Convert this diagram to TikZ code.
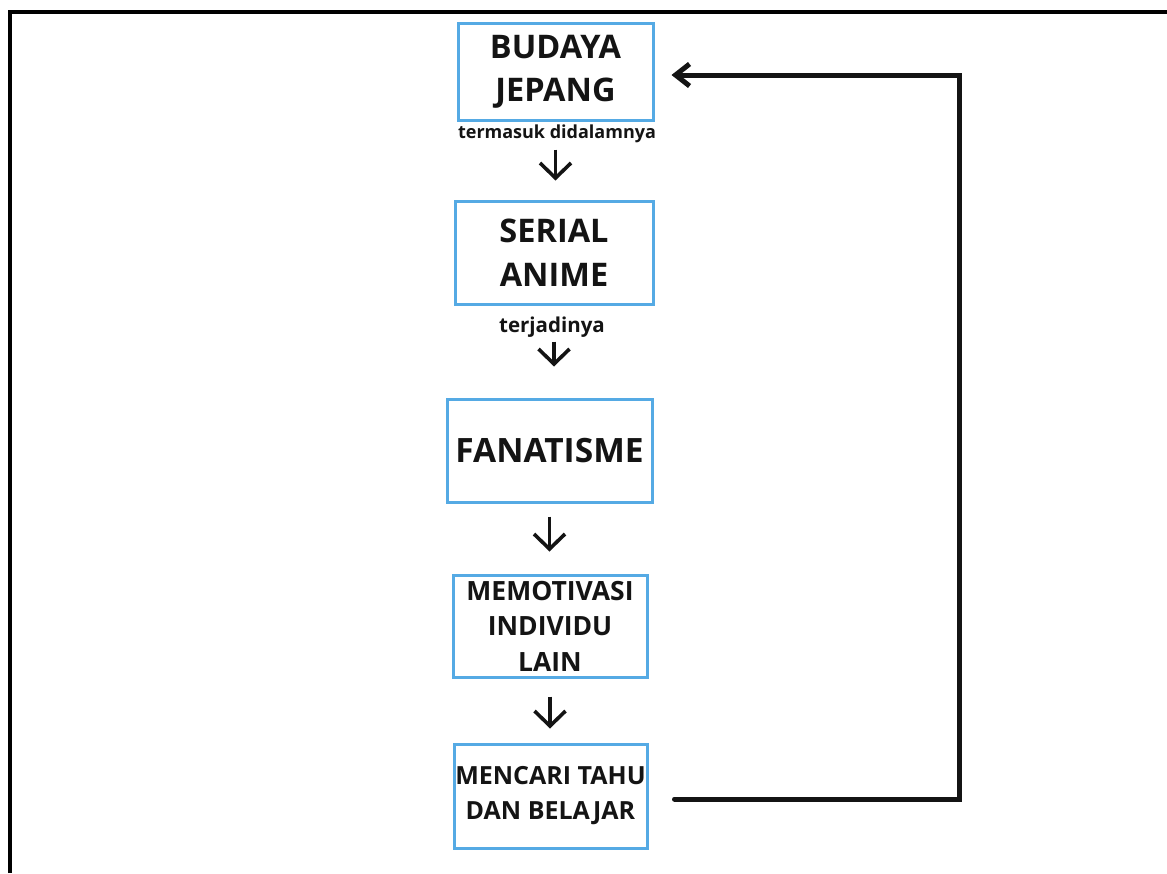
\documentclass[tikz,border=0pt]{standalone}
\usepackage{fontspec}
\setmainfont{Open Sans}
\usetikzlibrary{arrows.meta}
\definecolor{boxblue}{RGB}{85,170,228}
\definecolor{ink}{RGB}{20,20,20}
\tikzset{
  x=1pt, y=-1pt,
  flowbox/.style={draw=boxblue, line width=3pt, inner sep=0pt, align=center, text=ink},
  downarr/.style={draw=ink, line width=3.6pt, -{Straight Barb[length=15pt,width=31pt,line width=3.6pt]}},
  backarr/.style={draw=ink, line width=5pt, line cap=round, line join=miter, -{Straight Barb[length=14pt,width=22pt,line width=5pt]}},
  lbl/.style={text=ink, inner sep=0pt}
}
\begin{document}
\begin{tikzpicture}
\useasboundingbox (0,0) rectangle (1167,873);
\fill[white] (0,0) rectangle (1167,873);
% frame
\draw[line width=4pt] (10,873) -- (10,12) -- (1167,12);

\node[flowbox, minimum width=195pt, minimum height=97pt,
  font=\bfseries\fontsize{32.5}{43}\selectfont] (b1) at (555.5,71.5) {BUDAYA\\JEPANG};
\node[flowbox, minimum width=198pt, minimum height=103pt,
  font=\bfseries\fontsize{32.5}{44}\selectfont] (b2) at (554,252.5) {SERIAL\\ANIME};
\node[flowbox, minimum width=205pt, minimum height=103pt,
  font=\bfseries\fontsize{33.5}{40}\selectfont] (b3) at (549.5,450.5) {FANATISME};
\node[flowbox, minimum width=194pt, minimum height=102pt,
  font=\bfseries\fontsize{26.5}{35.5}\selectfont] (b4) at (550,626) {MEMOTIVASI\\INDIVIDU\\LAIN};
\node[flowbox, minimum width=193pt, minimum height=104pt,
  font=\bfseries\fontsize{25}{35}\selectfont] (b5) at (550.5,796) {MENCARI TAHU\\DAN BELAJAR};

\node[lbl, anchor=base, font=\bfseries\fontsize{18}{20}\selectfont] (l1) at (557,138) {termasuk didalamnya};
\node[lbl, anchor=base, font=\bfseries\fontsize{20.5}{22}\selectfont] (l2) at (552,332) {terjadinya};

\draw[downarr, shorten <=28pt, shorten >=19pt] (b1.south) -- (b1.south |- b2.north);
\draw[downarr, shorten <=36pt, shorten >=31pt] (b2.south) -- (b2.south |- b3.north);
\draw[downarr, shorten <=13pt, shorten >=22pt] (b3.south) -- (b3.south |- b4.north);
\draw[downarr, shorten <=18pt, shorten >=14pt] (b4.south) -- (b4.south |- b5.north);

\coordinate (c1) at (959,799);
\coordinate (c2) at (959,75);
\draw[backarr, shorten <=26pt, shorten >=17pt] (b5.east |- c1) -- (c1) -- (c2) -- (b1.east |- c2);
\end{tikzpicture}
\end{document}
